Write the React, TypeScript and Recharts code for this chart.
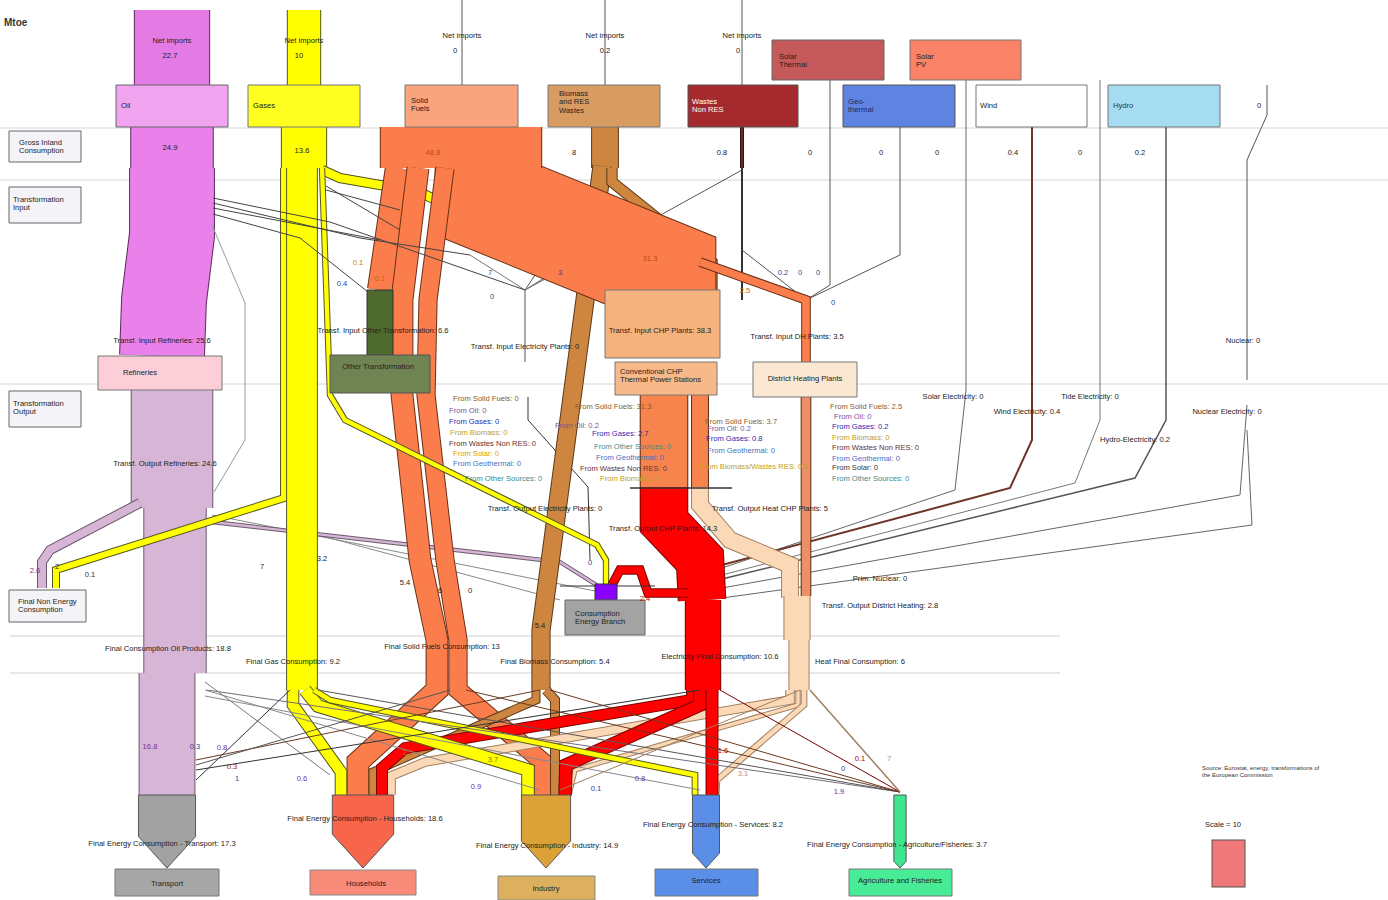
import React from 'react';
import { ComposedChart, XAxis, YAxis, Line, ReferenceArea, ReferenceDot } from 'recharts';

// ================= DATA (Mtoe) =================
const sources = ['Oil', 'Gases', 'Solid Fuels', 'Biomass and RES Wastes', 'Wastes Non RES', 'Solar Thermal', 'Solar PV', 'Geo-thermal', 'Wind', 'Hydro', 'Nuclear'];
const netImports = [22.7, 10, 0, 0.2, 0];
const grossInland = [24.9, 13.6, 48.8, 8, 0.8, 0, 0, 0, 0.4, 0.2, 0];
const transfInputs = ['Refineries', 'Other Transformation', 'Electricity Plants', 'CHP Plants', 'DH Plants'];
const transfInputValues = [25.6, 6.6, 0, 38.3, 3.5];
const finalSectors = ['Transport', 'Households', 'Industry', 'Services', 'Agriculture and Fisheries'];
const finalSectorValues = [17.3, 18.6, 14.9, 8.2, 3.7];
const finalByCarrier = ['Oil Products', 'Gas', 'Solid Fuels', 'Biomass', 'Electricity', 'Heat'];
const finalByCarrierValues = [18.8, 9.2, 13, 5.4, 10.6, 6];
const scaleValue = 10;

const flowIds = [
  'oilImports', 'gasImports', 'oilGic', 'gasGic', 'oilRefIn', 'refOut', 'oilFinal', 'oilTransport', 'oilNonEnergy', 'oilBranch',
  'gasChp', 'bioGic', 'bioFinal', 'bioChp', 'solidOther', 'solidChp', 'solidGic', 'solidDh', 'solidHouse', 'solidIndustry',
  'gasNonEnergy', 'gasBranch', 'gasFinal',
  'wasteGic', 'dhOut', 'chpElec', 'chpHeat', 'heatMain', 'heatCol', 'heatFinal',
  'elecMain', 'elecBranch', 'elecFinal',
  'bioHouse', 'bioIndustry', 'heatHouse', 'heatIndustry', 'heatServices',
  'elecHouse', 'elecIndustry', 'elecServices', 'gasHouse', 'gasIndustry', 'gasServices',
];
const flowValues = [
  22.7, 10, 24.9, 13.6, 25.6, 24.6, 18.8, 16.8, 2.6, 0.9,
  2.7, 8, 5.4, 3, 7.5, 31.3, 48.8, 2.5, 6.5, 5.4,
  2, 1.5, 9.2,
  0.8, 2.8, 14.3, 5, 5, 7.8, 6,
  14.3, 2.4, 10.6,
  2.3, 2.6, 2.5, 1.2, 1.6,
  3.2, 3.7, 3.5, 3.4, 3.7, 1.6,
];

// ================= LAYOUT & STYLE =================
const W = 1388;
const H = 900;
const K = 3.3; // pixels per Mtoe (legend: Scale = 10)
const FONT = 'Liberation Sans, Arial, sans-serif';

type Pt = { x: number; y: number };
const P = (...n: number[]): Pt[] => {
  const o: Pt[] = [];
  for (let i = 0; i < n.length; i += 2) o.push({ x: n[i], y: n[i + 1] });
  return o;
};

const PAL: Record<string, [string, string]> = {
  oil: ['#ea80ea', '#5a2a5a'],
  oilImp: ['#e47be4', '#5a2a5a'],
  mauve: ['#d6b5d6', '#6a5a6a'],
  gas: ['#ffff00', '#555522'],
  solid: ['#fa7d4b', '#6a3018'],
  bio: ['#cd853f', '#5a3a18'],
  waste: ['#6a2a2a', '#3a1010'],
  chpOut: ['#f7834d', '#5a2a10'],
  dh: ['#ec9068', '#5a2a10'],
  heat: ['#fbd9b6', '#a08060'],
  elec: ['#ff0000', '#7a0000'],
};

const FLOW_STYLE: Record<string, string> = {
  oilImports: 'oilImp', gasImports: 'gas', oilGic: 'oil', gasGic: 'gas', oilRefIn: 'oil', refOut: 'mauve', oilFinal: 'mauve',
  oilTransport: 'mauve', oilNonEnergy: 'mauve', oilBranch: 'mauve', gasNonEnergy: 'gas', gasBranch: 'gas', gasChp: 'gas',
  gasFinal: 'gas', gasHouse: 'gas', gasIndustry: 'gas', gasServices: 'gas', bioChp: 'bio', solidGic: 'solid', solidOther: 'solid',
  solidChp: 'solid', solidDh: 'solid', solidHouse: 'solid', solidIndustry: 'solid', bioGic: 'bio', bioFinal: 'bio', bioHouse: 'bio',
  bioIndustry: 'bio', wasteGic: 'waste', dhOut: 'dh', chpElec: 'chpOut', chpHeat: 'chpOut', heatMain: 'heat', heatCol: 'heat',
  heatFinal: 'heat', heatHouse: 'heat', heatIndustry: 'heat', heatServices: 'heat', elecMain: 'elec', elecBranch: 'elec',
  elecFinal: 'elec', elecHouse: 'elec', elecIndustry: 'elec', elecServices: 'elec',
};

const FLOW_PATHS: Record<string, Pt[]> = {
  oilImports: P(172, 10, 172, 85),
  gasImports: P(304, 10, 304, 85),
  oilGic: P(172, 127, 172, 168),
  gasGic: P(304, 127, 304, 168),
  oilRefIn: P(172, 168, 172, 235, 164, 300, 162, 356),
  refOut: P(172, 390, 172, 508),
  oilFinal: P(175, 508, 175, 673),
  oilTransport: P(167, 673, 167, 795),
  oilNonEnergy: P(140, 503, 50, 550, 42, 562, 42, 588),
  oilBranch: P(212, 522, 560, 562, 598, 586),
  gasNonEnergy: P(284, 168, 284, 498, 56, 570, 56, 588),
  gasBranch: P(322, 168, 330, 395, 345, 420, 597, 545, 606, 560, 606, 586),
  gasChp: P(322, 170, 340, 178, 420, 192, 612, 292),
  gasFinal: P(302, 168, 302, 690),
  gasHouse: P(293, 690, 293, 705, 341, 772, 341, 795),
  gasIndustry: P(305, 690, 318, 706, 528, 770, 528, 795),
  gasServices: P(314, 690, 330, 700, 695, 775, 695, 795),
  bioChp: P(612, 168, 612, 182, 712, 262, 712, 292),
  solidGic: P(461, 127, 461, 168),
  solidOther: P(398, 168, 380, 290),
  solidChp: P(487, 150, 487, 200, 664, 272, 664, 292),
  solidDh: P(700, 262, 806, 300, 806, 362),
  solidHouse: P(418, 168, 402, 300, 402, 395, 420, 560, 437, 640, 437, 690, 358, 762, 358, 795),
  solidIndustry: P(445, 168, 428, 300, 426, 395, 445, 560, 458, 640, 458, 690, 543, 762, 543, 795),
  bioGic: P(605, 127, 605, 168),
  bioFinal: P(602, 166, 585, 300, 541, 630, 541, 690),
  bioHouse: P(536, 690, 536, 700, 373, 772, 373, 795),
  bioIndustry: P(546, 690, 555, 700, 555, 795),
  wasteGic: P(742, 127, 742, 168),
  dhOut: P(806, 397, 806, 596),
  chpElec: P(664, 395, 664, 487),
  chpHeat: P(700, 395, 700, 487),
  heatMain: P(700, 487, 700, 505, 730, 540, 790, 565, 790, 598),
  heatCol: P(797, 596, 797, 640),
  heatFinal: P(799, 640, 799, 690),
  heatHouse: P(790, 690, 790, 700, 425, 762, 391, 776, 391, 795),
  heatIndustry: P(798, 690, 798, 705, 575, 770, 569, 795),
  heatServices: P(804, 690, 804, 705, 717, 780, 716, 797),
  elecMain: P(664, 487, 664, 522, 700, 560, 702, 600),
  elecBranch: P(688, 593, 648, 593, 640, 570, 620, 570, 612, 585),
  elecFinal: P(703, 600, 703, 690),
  elecHouse: P(692, 690, 692, 700, 405, 748, 382, 768, 382, 795),
  elecIndustry: P(700, 690, 700, 705, 566, 765, 565, 795),
  elecServices: P(712, 690, 712, 797),
};

// thin (near-zero) links: [points, colour, width]
const THIN: [Pt[], string, number][] = [
  [P(0, 128, W, 128), '#d6d6d6', 1],
  [P(0, 180, W, 180), '#d6d6d6', 1],
  [P(0, 384, W, 384), '#d6d6d6', 1],
  [P(10, 636, 1060, 636), '#d0d0d0', 1],
  [P(10, 673, 1060, 673), '#d0d0d0', 1],
  [P(462, 0, 462, 85), '#555', 1],
  [P(605, 0, 605, 85), '#555', 1],
  [P(742, 0, 742, 85), '#555', 1],
  [P(605, 170, 525, 290), '#555', 1],
  [P(742, 168, 742, 300), '#333', 2],
  [P(742, 170, 525, 290), '#555', 1],
  [P(742, 250, 806, 300), '#555', 1],
  [P(830, 80, 830, 285, 806, 300), '#555', 1],
  [P(900, 127, 900, 255, 806, 300), '#555', 1],
  [P(525, 290, 525, 362), '#555', 1],
  [P(470, 255, 525, 290, 580, 255), '#777', 1],
  [P(966, 80, 966, 390, 955, 490, 722, 568), '#666', 1],
  [P(1032, 127, 1032, 440, 1010, 488, 722, 565), '#6e3426', 2],
  [P(1100, 80, 1100, 420, 1075, 483, 722, 575), '#777', 1],
  [P(1166, 127, 1166, 420, 1135, 478, 722, 579), '#555', 1.5],
  [P(1267, 85, 1267, 115, 1247, 160, 1247, 380), '#555', 1],
  [P(1247, 405, 1240, 495, 722, 588), '#666', 1],
  [P(1247, 430, 1252, 525, 722, 598), '#666', 1],
  [P(528, 397, 528, 420, 588, 487, 590, 560), '#333', 1],
  [P(212, 515, 600, 592), '#888', 1],
  [P(300, 530, 560, 600), '#888', 1],
];

// links drawn above the flows
const THIN_TOP: [Pt[], string, number][] = [
  [P(213, 198, 330, 222, 525, 290), '#444', 1],
  [P(213, 203, 360, 238, 470, 255), '#444', 1],
  [P(213, 208, 380, 240), '#444', 1],
  [P(213, 214, 300, 238, 368, 292), '#444', 1],
  [P(212, 225, 245, 303, 245, 440, 214, 492), '#9a9a9a', 1],
  [P(326, 186, 400, 230), '#444', 1],
  [P(326, 190, 400, 210), '#444', 1],
  [P(630, 488, 732, 488), '#333', 1.5],
  [P(560, 586, 655, 586), '#333', 1.2],
  [P(207, 690, 900, 792), '#7a6a7a', 1],
  [P(318, 690, 900, 792), '#555', 1],
  [P(466, 690, 900, 792), '#6a3a20', 1],
  [P(550, 690, 900, 792), '#6a3a20', 1],
  [P(720, 690, 900, 792), '#7a0000', 1],
  [P(810, 690, 900, 792), '#a08060', 1.5],
  [P(205, 682, 330, 775), '#777', 1],
  [P(205, 690, 540, 790), '#888', 1],
  [P(205, 696, 700, 790), '#888', 1],
  [P(290, 690, 196, 780), '#334', 1],
  [P(540, 690, 196, 760), '#6a3a20', 1],
  [P(700, 690, 196, 770), '#333', 1],
  [P(450, 690, 196, 765), '#555', 1],
  [P(800, 690, 560, 790), '#a08060', 1],
];

// boxes: [x1, x2, y1, y2, fill, stroke]
const BOXES: [number, number, number, number, string, string][] = [
  [116, 228, 85, 127, '#f0a4f0', '#666'],
  [248, 360, 85, 127, '#ffff22', '#777'],
  [405, 518, 85, 127, '#f9a47c', '#777'],
  [548, 660, 85, 127, '#d89c62', '#777'],
  [688, 798, 85, 127, '#a52a2d', '#555'],
  [772, 884, 40, 80, '#c65a5a', '#666'],
  [910, 1021, 40, 80, '#fa8266', '#777'],
  [843, 955, 85, 127, '#5f83e0', '#555'],
  [976, 1087, 85, 127, '#ffffff', '#777'],
  [1108, 1220, 85, 127, '#a6dcf2', '#777'],
  [9, 81, 131, 162, '#f4f4f8', '#666'],
  [9, 81, 187, 223, '#f4f4f8', '#666'],
  [9, 81, 391, 427, '#f4f4f8', '#666'],
  [9, 86, 590, 622, '#f4f4f8', '#666'],
  [98, 222, 356, 390, '#fccfd8', '#777'],
  [367, 393, 290, 355, '#4e6a2e', '#333'],
  [330, 430, 355, 393, '#6f8452', '#555'],
  [605, 720, 290, 358, '#f6b27c', '#777'],
  [615, 717, 362, 395, '#f8b98a', '#777'],
  [753, 857, 362, 397, '#fbe8d2', '#777'],
  [595, 617, 584, 600, '#8a00ff', '#333'],
  [565, 645, 600, 635, '#a3a3a3', '#666'],
  [115, 219, 869, 896, '#a6a6a6', '#777'],
  [310, 416, 870, 895, '#f88a7a', '#888'],
  [498, 595, 876, 900, '#ddb060', '#888'],
  [655, 758, 869, 896, '#5b8ee6', '#777'],
  [849, 952, 869, 896, '#48eb96', '#777'],
];

const SECTOR_CX = [167, 363, 546, 706, 900];
const SECTOR_FILL = ['#a2a2a2', '#f7664a', '#dca238', '#5b8ee6', '#3ee68f'];
const SECTOR_TOP = 795;

const LS = 7.6; // list font size
// labels: [text, x, y, anchor, colour, size, bold]
type Lab = [string, number, number, string?, string?, number?, boolean?];
const LABELS: Lab[] = [
  ['Mtoe', 4, 22, 'start', '#333', 10, true],
  ['Net imports', 172, 40], [String(netImports[0]), 170, 55],
  ['Net imports', 304, 40], [String(netImports[1]), 299, 55],
  ['Net imports', 462, 35], [String(netImports[2]), 455, 50],
  ['Net imports', 605, 35], [String(netImports[3]), 605, 50],
  ['Net imports', 742, 35], [String(netImports[4]), 738, 50],
  ['Oil', 121, 105, 'start'], ['Gases', 253, 105, 'start'], ['Solid\nFuels', 411, 100, 'start'],
  ['Biomass\nand RES\nWastes', 559, 93, 'start'], ['Wastes\nNon RES', 692, 101, 'start', '#ffffff'],
  ['Solar\nThermal', 779, 56, 'start'], ['Solar\nPV', 916, 56, 'start'], ['Geo-\nthermal', 848, 101, 'start', '#1a2a60'],
  ['Wind', 980, 105, 'start'], ['Hydro', 1113, 105, 'start', '#1a3a60'], ['0', 1259, 105],
  [String(grossInland[0]), 170, 147], [String(grossInland[1]), 302, 150], [String(grossInland[2]), 433, 152, 'middle', '#c04818'],
  [String(grossInland[3]), 574, 152], [String(grossInland[4]), 722, 152], ['0', 810, 152], ['0', 881, 152], ['0', 937, 152],
  [String(grossInland[8]), 1013, 152], ['0', 1080, 152], [String(grossInland[9]), 1140, 152],
  ['Gross Inland\nConsumption', 19, 142, 'start'], ['Transformation\nInput', 13, 199, 'start'],
  ['Transformation\nOutput', 13, 403, 'start'], ['Final Non Energy\nConsumption', 18, 601, 'start'],
  ['Transf. Input Refineries: ' + transfInputValues[0], 162, 340], ['Refineries', 140, 372, 'middle'],
  ['Transf. Input Other Transformation: ' + transfInputValues[1], 383, 330], ['Other Transformation', 378, 366],
  ['Transf. Input Electricity Plants: ' + transfInputValues[2], 525, 346], ['Transf. Input CHP Plants: ' + transfInputValues[3], 660, 330],
  ['Conventional CHP\nThermal Power Stations', 620, 371, 'start'], ['Transf. Input DH Plants: ' + transfInputValues[4], 797, 336],
  ['District Heating Plants', 805, 378], ['Nuclear: 0', 1243, 340],
  ['31.3', 650, 258, 'middle', '#c04818'], ['0.1', 358, 262, 'middle', '#d08000'], ['0.4', 342, 283, 'middle', '#3040a0'],
  ['0.1', 380, 278, 'middle', '#d06020'], ['7', 490, 272, 'middle', '#3040a0'], ['0', 492, 296, 'middle', '#3040a0'],
  ['3', 560, 272, 'middle', '#3040a0'], ['0.2', 783, 272, 'middle', '#3040a0'], ['0', 800, 272, 'middle', '#3040a0'],
  ['0', 818, 272, 'middle', '#3040a0'], ['0', 833, 302, 'middle', '#3040a0'], ['2.5', 745, 290, 'middle', '#d06020'],
  ['Transf. Output Refineries: 24.6', 165, 463],
  ['From Solid Fuels: 0', 453, 398, 'start', '#8b5a2b', LS], ['From Oil: 0', 449, 410, 'start', '#8050a0', LS],
  ['From Gases: 0', 449, 421, 'start', '#2a2ab0', LS], ['From Biomass: 0', 450, 432, 'start', '#c0a020', LS],
  ['From Wastes Non RES: 0', 449, 443, 'start', '#6a3030', LS], ['From Solar: 0', 453, 453, 'start', '#e0a000', LS],
  ['From Geothermal: 0', 453, 463, 'start', '#4070c0', LS], ['From Other Sources: 0', 465, 478, 'start', '#3a8a8a', LS],
  ['From Solid Fuels: 31.3', 575, 406, 'start', '#8b5a2b', LS], ['From Oil: 0.2', 555, 425, 'start', '#8050a0', LS],
  ['From Gases: 2.7', 592, 433, 'start', '#2a2ab0', LS], ['From Other Sources: 0', 594, 446, 'start', '#3a8a8a', LS],
  ['From Geothermal: 0', 596, 457, 'start', '#4070c0', LS], ['From Wastes Non RES: 0', 580, 468, 'start', '#6a3030', LS],
  ['From Biomass: 3', 600, 478, 'start', '#c0a020', LS],
  ['From Solid Fuels: 3.7', 705, 421, 'start', '#8b5a2b', LS], ['From Oil: 0.2', 707, 428, 'start', '#8050a0', LS],
  ['From Gases: 0.8', 706, 438, 'start', '#2a2ab0', LS], ['From Geothermal: 0', 707, 450, 'start', '#4070c0', LS],
  ['From Biomass/Wastes RES: 0.5', 700, 466, 'start', '#c0a020', LS],
  ['From Solid Fuels: 2.5', 830, 406, 'start', '#8b5a2b', LS], ['From Oil: 0', 834, 416, 'start', '#8050a0', LS],
  ['From Gases: 0.2', 832, 426, 'start', '#2a2ab0', LS], ['From Biomass: 0', 832, 437, 'start', '#c0a020', LS],
  ['From Wastes Non RES: 0', 832, 447, 'start', '#6a3030', LS], ['From Geothermal: 0', 832, 458, 'start', '#4070c0', LS],
  ['From Solar: 0', 832, 467, 'start', '#333', LS], ['From Other Sources: 0', 832, 478, 'start', '#3a8a8a', LS],
  ['Solar Electricity: 0', 953, 396], ['Wind Electricity: ' + grossInland[8], 1027, 411], ['Tide Electricity: 0', 1090, 396],
  ['Hydro-Electricity: ' + grossInland[9], 1135, 439], ['Nuclear Electricity: 0', 1227, 411],
  ['Transf. Output Electricity Plants: 0', 545, 508], ['Transf. Output Heat CHP Plants: 5', 770, 508],
  ['Transf. Output CHP Plants: 14.3', 663, 528], ['Prim. Nuclear: 0', 880, 578], ['Transf. Output District Heating: 2.8', 880, 605],
  ['Final Consumption Oil Products: ' + finalByCarrierValues[0], 168, 648], ['Final Gas Consumption: ' + finalByCarrierValues[1], 293, 661],
  ['Final Solid Fuels Consumption: ' + finalByCarrierValues[2], 442, 646], ['Final Biomass Consumption: ' + finalByCarrierValues[3], 555, 661],
  ['Electricity Final Consumption: ' + finalByCarrierValues[4], 720, 656], ['Heat Final Consumption: ' + finalByCarrierValues[5], 860, 661],
  ['2.6', 35, 570, 'middle', '#7030a0'], ['2', 57, 566, 'middle', '#333'], ['0.1', 90, 574, 'middle', '#333'],
  ['7', 262, 566, 'middle', '#333'], ['3.2', 322, 558], ['5.4', 405, 582], ['6', 440, 590], ['5.4', 540, 625], ['0', 470, 590],
  ['0', 590, 562, 'middle', '#3040a0'], ['2.4', 645, 598, 'middle', '#c00000'],
  ['16.8', 150, 746, 'middle', '#7030a0'], ['0.3', 195, 746, 'middle', '#3040a0'], ['0.8', 222, 747, 'middle', '#7030a0'],
  ['0.3', 232, 766, 'middle', '#a02020'], ['1', 237, 778, 'middle', '#7030a0'], ['0.6', 302, 778, 'middle', '#7030a0'],
  ['2.1', 408, 752, 'middle', '#d06020'], ['3.7', 493, 759, 'middle', '#808000'], ['0.9', 476, 786, 'middle', '#7030a0'],
  ['0.1', 596, 788, 'middle', '#3040a0'], ['0.8', 640, 778, 'middle', '#7030a0'], ['1.6', 723, 750, 'middle', '#c00000'],
  ['3.1', 743, 773, 'middle', '#c09070'], ['0', 843, 768, 'middle', '#3040a0'], ['0.1', 860, 758, 'middle', '#c00000'],
  ['7', 889, 758, 'middle', '#c09070'], ['1.9', 839, 791, 'middle', '#7030a0'],
  ['Consumption\nEnergy Branch', 575, 613, 'start'],
  [finalSectors[0], 167, 883], [finalSectors[1], 366, 883], [finalSectors[2], 546, 888], [finalSectors[3], 706, 880], [finalSectors[4], 900, 880],
  ['Final Energy Consumption - Transport: ' + finalSectorValues[0], 162, 843],
  ['Final Energy Consumption - Households: ' + finalSectorValues[1], 365, 818],
  ['Final Energy Consumption - Industry: ' + finalSectorValues[2], 547, 845],
  ['Final Energy Consumption - Services: ' + finalSectorValues[3], 713, 824],
  ['Final Energy Consumption - Agriculture/Fisheries: ' + finalSectorValues[4], 897, 844],
  ['Source: Eurostat, energy, transformations of\nthe European Commission', 1202, 768, 'start', '#333', 6],
  ['Scale = ' + scaleValue, 1205, 824, 'start'],
];

const makeText = (txt: string, anchor: string, color: string, size: number, bold: boolean) => (p: any) => {
  const lines = txt.split('\n');
  return (
    <text x={p.cx} y={p.cy} textAnchor={anchor} fill={color} fontSize={size} fontWeight={bold ? 700 : 400} fontFamily={FONT}>
      {lines.map((l, i) => (
        <tspan key={i} x={p.cx} dy={i === 0 ? '0.35em' : '1.12em'}>{l}</tspan>
      ))}
    </text>
  );
};

const makePent = (w: number, fill: string) => (p: any) => {
  const h = w / 2;
  const tip = 73;
  const body = tip - Math.min(0.55 * w, 34);
  const { cx, cy } = p;
  const pts = `${cx - h},${cy} ${cx + h},${cy} ${cx + h},${cy + body} ${cx},${cy + tip} ${cx - h},${cy + body}`;
  return <polygon points={pts} fill={fill} stroke="#555" strokeWidth={1} />;
};

const makeLegendBox = (w: number) => (p: any) => (
  <rect x={p.cx} y={p.cy} width={w} height={47} fill="#f07878" stroke="#555" strokeWidth={1} />
);

const lineProps = { dataKey: 'y', dot: false, activeDot: false, isAnimationActive: false, legendType: 'none' as const, type: 'linear' as const };

export default function App() {
  return (
    <div style={{ position: 'absolute', left: 0, top: 0, width: W, height: H, background: '#fff' }}>
      <ComposedChart width={W} height={H} margin={{ top: 0, right: 0, bottom: 0, left: 0 }}>
        <XAxis type="number" dataKey="x" domain={[0, W]} hide allowDataOverflow />
        <YAxis type="number" domain={[0, H]} reversed hide allowDataOverflow />
        {THIN.map(([pts, c, w], i) => (
          <Line key={'t' + i} {...lineProps} data={pts} stroke={c} strokeWidth={w} zIndex={300} />
        ))}
        {flowIds.map((id, i) => {
          const w = flowValues[i] * K;
          const [fill, edge] = PAL[FLOW_STYLE[id]];
          return [
            <Line key={id + 'e'} {...lineProps} data={FLOW_PATHS[id]} stroke={edge} strokeWidth={w + 1.4} strokeLinejoin="miter" strokeMiterlimit={8} zIndex={400 + 2 * i} />,
            <Line key={id + 'f'} {...lineProps} data={FLOW_PATHS[id]} stroke={fill} strokeWidth={Math.max(w - 0.6, 0.6)} strokeLinejoin="miter" strokeMiterlimit={8} zIndex={401 + 2 * i} />,
          ];
        })}
        {THIN_TOP.map(([pts, c, w], i) => (
          <Line key={'tt' + i} {...lineProps} data={pts} stroke={c} strokeWidth={w} zIndex={900} />
        ))}
        {BOXES.map(([x1, x2, y1, y2, f, s], i) => (
          <ReferenceArea key={'b' + i} x1={x1} x2={x2} y1={y1} y2={y2} fill={f} fillOpacity={1} stroke={s} strokeWidth={1} ifOverflow="visible" zIndex={1000} />
        ))}
        {finalSectorValues.map((v, i) => (
          <ReferenceDot key={'p' + i} x={SECTOR_CX[i]} y={SECTOR_TOP} r={1} ifOverflow="visible" zIndex={1100} shape={makePent(v * K, SECTOR_FILL[i])} />
        ))}
        <ReferenceDot x={1212} y={840} r={1} ifOverflow="visible" zIndex={1100} shape={makeLegendBox(scaleValue * K)} />
        {LABELS.map(([t, x, y, a, c, s, b], i) => (
          <ReferenceDot key={'l' + i} x={x} y={y} r={1} ifOverflow="visible" zIndex={1200}
            shape={makeText(t, a || 'middle', c || '#222', s || 7.6, !!b)} />
        ))}
      </ComposedChart>
    </div>
  );
}
